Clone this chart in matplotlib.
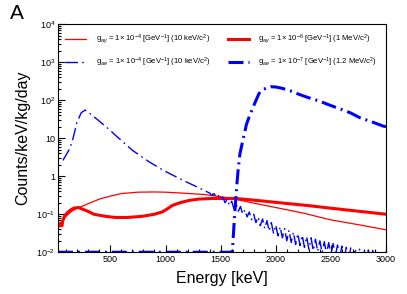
import numpy as np
import matplotlib

matplotlib.use("Agg")
import matplotlib.pyplot as plt
from matplotlib.ticker import FixedLocator, MultipleLocator, LogLocator, NullFormatter

plt.rcParams["font.family"] = ["Liberation Sans", "DejaVu Sans"]
plt.rcParams["mathtext.fontset"] = "custom"
plt.rcParams["mathtext.rm"] = "Liberation Sans"
plt.rcParams["mathtext.it"] = "Liberation Sans:italic"
plt.rcParams["mathtext.sf"] = "Liberation Sans"
plt.rcParams["lines.scale_dashes"] = False

# g_ay = 1e-4, 10 keV (thin red)
e_ay10 = [30, 60, 100, 150, 200, 250, 300, 400, 500, 600, 750, 900, 1000, 1150,
          1350, 1500, 1600, 1800, 2000, 2250, 2500, 2750, 3000]
y_ay10 = [0.055, 0.065, 0.09, 0.12, 0.145, 0.165, 0.19, 0.25, 0.30, 0.35, 0.38,
          0.385, 0.38, 0.36, 0.33, 0.29, 0.26, 0.196, 0.15, 0.107, 0.071, 0.053, 0.039]

# g_ay = 1e-6, 1 MeV (thick red)
e_ay1m = [30, 62, 67, 85, 110, 140, 170, 210, 250, 300, 350, 455, 550, 650, 788,
          900, 970, 1020, 1061, 1130, 1212, 1300, 1424, 1636, 1800, 2076, 2300,
          2500, 2750, 3000]
y_ay1m = [0.05, 0.05, 0.065, 0.09, 0.11, 0.13, 0.145, 0.15, 0.135, 0.118, 0.1,
          0.088, 0.082, 0.082, 0.088, 0.1, 0.115, 0.14, 0.17, 0.2, 0.23, 0.25,
          0.26, 0.26, 0.235, 0.195, 0.168, 0.144, 0.12, 0.10]

# g_ae = 1e-4, 10 keV (thin blue dash-dot)
e_ae10 = [70, 76, 121, 152, 197, 236, 273, 300, 394, 500, 545, 700, 850, 985, 1100,
          1197, 1300, 1400, 1420, 1440, 1460, 1480, 1500, 1520, 1540, 1560, 1580,
          1600, 1620, 1640, 1660, 1680, 1700, 1720, 1740, 1760, 1780, 1800, 1820,
          1840, 1860, 1880, 1900, 1920, 1940, 1960, 1980, 2000, 2020, 2040, 2060,
          2080, 2100, 2120, 2140, 2160, 2180, 2200, 2220, 2240, 2260, 2280, 2300,
          2320, 2340, 2360, 2380, 2400, 2420, 2440, 2460, 2480, 2500, 2520, 2540,
          2560, 2580, 2600, 2620, 2640, 2660, 2680, 2700, 2720, 2740, 2760, 2780,
          2800, 2820, 2840, 2860, 2880, 2900, 2920, 2940, 2960, 2980, 3000]
y_ae10 = [2.6, 2.8, 4.7, 7.7, 26, 47, 55, 48, 29, 16, 12, 4.8, 2.4, 1.4, 0.95,
          0.69, 0.5, 0.36, 0.32, 0.35, 0.28, 0.31, 0.24, 0.28, 0.20, 0.25, 0.17,
          0.22, 0.14, 0.19, 0.12, 0.16, 0.10, 0.13, 0.085, 0.115, 0.072, 0.10, 0.06,
          0.085, 0.05, 0.075, 0.042, 0.068, 0.036, 0.06, 0.031, 0.052, 0.027, 0.047,
          0.024, 0.042, 0.02, 0.038, 0.018, 0.034, 0.016, 0.031, 0.015, 0.028,
          0.0135, 0.026, 0.012, 0.024, 0.011, 0.022, 0.0105, 0.02, 0.0098, 0.019,
          0.009, 0.018, 0.0085, 0.017, 0.008, 0.0155, 0.0075, 0.0145, 0.007, 0.0135,
          0.0065, 0.013, 0.006, 0.0125, 0.0058, 0.012, 0.0055, 0.0118, 0.0052,
          0.0115, 0.005, 0.0112, 0.0048, 0.011, 0.0046, 0.0108, 0.0045, 0.0105]

# g_ae = 1e-7, 1.2 MeV (thick blue dash-dot)
e_ae12 = [25, 1606, 1625, 1645, 1657, 1675, 1697, 1734, 1764, 1803, 1848, 1885,
          1955, 2000, 2061, 2136, 2212, 2300, 2394, 2500, 2576, 2680, 2758, 2870,
          2970, 3000]
y_ae12 = [0.01, 0.01, 0.08, 0.5, 1.3, 3.9, 7.7, 23, 40, 75, 150, 193, 225, 222,
          204, 174, 142, 115, 95, 72, 60, 46, 35, 27, 21, 20]

lab_ay10 = r"g$_{a\gamma}$ = 1$\times$ 10$^{-4}$ [GeV$^{-1}$] (10 keV/c$^{2}$)"
lab_ay1m = r"g$_{a\gamma}$ = 1$\times$ 10$^{-6}$ [GeV$^{-1}$] (1 MeV/c$^{2}$)"
lab_ae10 = r"g$_{ae}$ = 1$\times$ 10$^{-4}$ [GeV$^{-1}$] (10 keV/c$^{2}$)"
lab_ae12 = r"g$_{ae}$ = 1$\times$ 10$^{-7}$ [GeV$^{-1}$] (1.2 MeV/c$^{2}$)"

ytick_vals = [1e-2, 1e-1, 1, 10, 1e2, 1e3, 1e4]
ytick_labs = [r"10$^{-2}$", r"10$^{-1}$", "1", "10", r"10$^{2}$", r"10$^{3}$", r"10$^{4}$"]

fig = plt.figure(figsize=(4.07, 2.94), dpi=100)
ax = fig.add_axes([0.1425, 0.142, 0.806, 0.776])

l1, = ax.plot(e_ay10, y_ay10, color="#ff0000", lw=0.9, label=lab_ay10)
l2, = ax.plot(e_ay1m, y_ay1m, color="#ff0000", lw=2.2, label=lab_ay1m)
l3, = ax.plot(e_ae10, y_ae10, color="#0000ff", lw=1.0, dashes=(9, 3, 1.2, 3), label=lab_ae10)
l4, = ax.plot(e_ae12, y_ae12, color="#0000ff", lw=2.2, dashes=(10.8, 3.6, 1.4, 3.6), label=lab_ae12)

ax.set_yscale("log")
ax.set_xlim(25, 3000)
ax.set_ylim(1e-2, 1e4)

ax.yaxis.set_major_locator(FixedLocator(ytick_vals))
ax.set_yticklabels(ytick_labs)
ax.yaxis.set_minor_locator(LogLocator(base=10, subs=np.arange(2, 10), numticks=20))
ax.yaxis.set_minor_formatter(NullFormatter())
ax.xaxis.set_major_locator(FixedLocator([500, 1000, 1500, 2000, 2500, 3000]))
ax.xaxis.set_minor_locator(MultipleLocator(100))

ax.tick_params(which="both", direction="in", top=False, right=False, labelsize=6.5, width=0.8)
ax.tick_params(which="major", length=5)
ax.tick_params(which="minor", length=2.5)
ax.tick_params(axis="x", pad=2)
ax.tick_params(axis="y", pad=2)
for s in ax.spines.values():
    s.set_linewidth(0.8)

ax.set_xlabel("Energy [keV]", fontsize=11.5, labelpad=5)
ax.set_ylabel("Counts/keV/kg/day", fontsize=11.5, labelpad=4)

leg1 = ax.legend(handles=[l1, l3], loc="upper left", bbox_to_anchor=(0.021, 0.962),
                 frameon=False, fontsize=5.5, handlelength=2.7, handletextpad=1.4,
                 labelspacing=1.35, borderpad=0, borderaxespad=0)
ax.add_artist(leg1)
ax.legend(handles=[l2, l4], loc="upper left", bbox_to_anchor=(0.518, 0.962),
          frameon=False, fontsize=5.5, handlelength=2.7, handletextpad=1.2,
          labelspacing=1.35, borderpad=0, borderaxespad=0)

fig.text(0.025, 0.985, "A", fontsize=15, va="top", ha="left")

fig.savefig("out.png", dpi=100)
